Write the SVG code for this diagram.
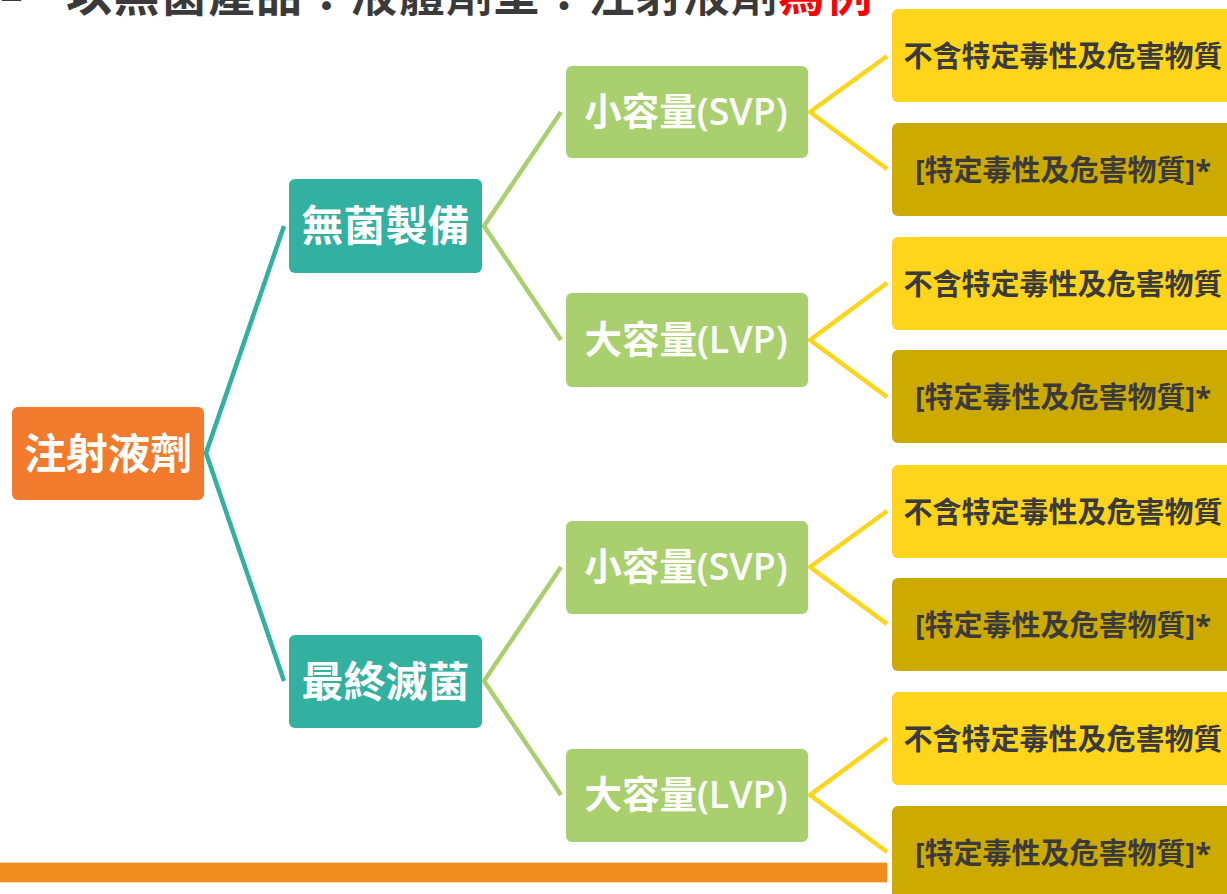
<svg xmlns="http://www.w3.org/2000/svg" width="1227" height="894" viewBox="0 0 1227 894">
<style>
  text { font-family: "Open Sans", "Noto Sans CJK TC", sans-serif; font-weight: 700; }
  .title { font-size: 46px; fill: #3a3a3a; letter-spacing: 1.5px; }
  .red { fill: #ff0000; }
  .big { font-size: 42px; fill: #ffffff; text-anchor: middle; dominant-baseline: central; }
  .mid { font-size: 37.5px; fill: #ffffff; text-anchor: middle; dominant-baseline: central; font-weight: 600; }
  .small { font-size: 29px; fill: #3a3a3a; text-anchor: middle; dominant-baseline: central; }
  .root { fill: #f17a2d; }
  .teal { fill: #32b0a0; }
  .green { fill: #a9cf6f; }
  .yel { fill: #fed51b; }
  .dyel { fill: #cdaa00; }
  .lt { fill: none; stroke: #32b0a0; stroke-width: 4.5; }
  .lg { fill: none; stroke: #a9cf6f; stroke-width: 4.5; }
  .ly { fill: none; stroke: #fed51b; stroke-width: 4.5; }
</style>

<g id="title">
  <text class="title" x="0" y="11">–</text>
  <text class="title" x="66" y="11">以無菌產品：液體劑型：注射液劑<tspan class="red">為例</tspan></text>
</g>

<g id="connectors">
  <polyline class="lt" points="284,226 206,453 284,681"/>
  <polyline class="lg" points="561,112 484,226 561,340"/>
  <polyline class="lg" points="561,567 484,681 561,795"/>
  <polyline class="ly" points="887,56 810,112 887,169"/>
  <polyline class="ly" points="887,283 810,340 887,397"/>
  <polyline class="ly" points="887,511 810,567 887,624"/>
  <polyline class="ly" points="887,738 810,795 887,852"/>
</g>

<g id="n-root">
  <rect class="root" x="12" y="407" width="192" height="93" rx="6"/>
  <text class="big" x="108" y="452">注射液劑</text>
</g>

<g id="n-aseptic">
  <rect class="teal" x="289" y="179" width="193" height="94" rx="6"/>
  <text class="big" x="385.5" y="224">無菌製備</text>
</g>
<g id="n-terminal">
  <rect class="teal" x="289" y="635" width="193" height="93" rx="6"/>
  <text class="big" x="385.5" y="680">最終滅菌</text>
</g>

<g id="n-svp1">
  <rect class="green" x="566" y="66" width="242" height="92" rx="6"/>
  <text class="mid" x="686" y="110">小容量(SVP)</text>
</g>
<g id="n-lvp1">
  <rect class="green" x="566" y="293" width="242" height="94" rx="6"/>
  <text class="mid" x="686" y="338">大容量(LVP)</text>
</g>
<g id="n-svp2">
  <rect class="green" x="566" y="521" width="242" height="93" rx="6"/>
  <text class="mid" x="686" y="565">小容量(SVP)</text>
</g>
<g id="n-lvp2">
  <rect class="green" x="566" y="749" width="242" height="93" rx="6"/>
  <text class="mid" x="686" y="793">大容量(LVP)</text>
</g>

<g id="n-a1">
  <rect class="yel" x="892" y="9" width="345" height="93" rx="6"/>
  <text class="small" x="1063" y="55">不含特定毒性及危害物質</text>
</g>
<g id="n-b1">
  <rect class="dyel" x="892" y="123" width="345" height="93" rx="6"/>
  <text class="small" x="1063" y="169">[特定毒性及危害物質]*</text>
</g>
<g id="n-a2">
  <rect class="yel" x="892" y="237" width="345" height="93" rx="6"/>
  <text class="small" x="1063" y="283">不含特定毒性及危害物質</text>
</g>
<g id="n-b2">
  <rect class="dyel" x="892" y="350" width="345" height="93" rx="6"/>
  <text class="small" x="1063" y="396">[特定毒性及危害物質]*</text>
</g>
<g id="n-a3">
  <rect class="yel" x="892" y="465" width="345" height="93" rx="6"/>
  <text class="small" x="1063" y="511">不含特定毒性及危害物質</text>
</g>
<g id="n-b3">
  <rect class="dyel" x="892" y="578" width="345" height="93" rx="6"/>
  <text class="small" x="1063" y="624">[特定毒性及危害物質]*</text>
</g>
<g id="n-a4">
  <rect class="yel" x="892" y="692" width="345" height="93" rx="6"/>
  <text class="small" x="1063" y="738">不含特定毒性及危害物質</text>
</g>
<g id="n-b4">
  <rect class="dyel" x="892" y="806" width="345" height="93" rx="6"/>
  <text class="small" x="1063" y="852">[特定毒性及危害物質]*</text>
</g>

<g id="footer-bar">
  <rect x="0" y="862" width="887" height="21" fill="#f8d9a8"/>
  <rect x="0" y="863" width="887" height="19" fill="#ef8d21"/>
</g>
</svg>
